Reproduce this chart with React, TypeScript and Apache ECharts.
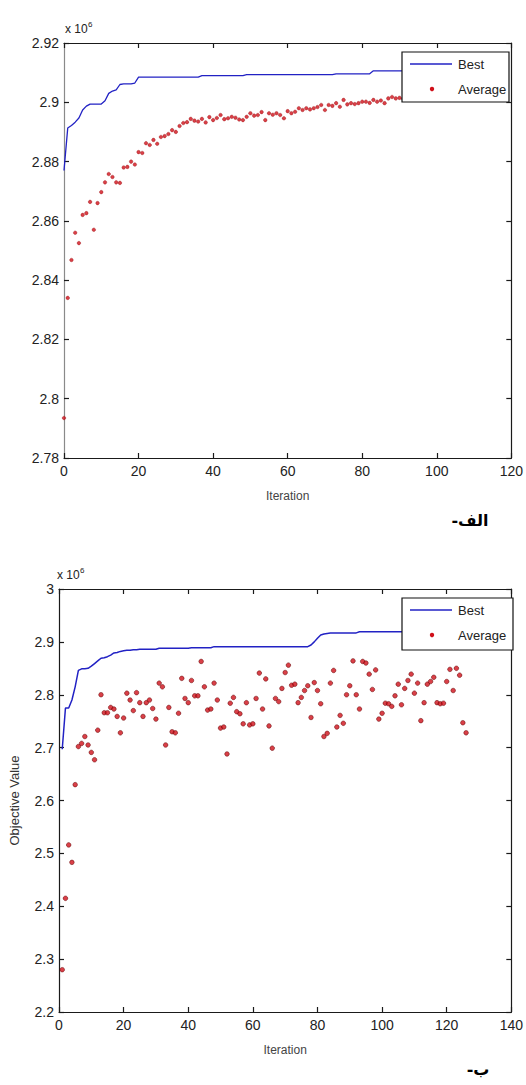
import React, { useEffect, useRef } from "react";
import * as echarts from "echarts";

// ---------- DATA (values in units of 10^6) ----------
// Chart (a): iterations start at 0
const topStartIter = 0;
const topBest = [
  2.877, 2.8913, 2.8922, 2.8933, 2.8947, 2.8974, 2.8987, 2.8994, 2.8994, 2.8994,
  2.8994, 2.9005, 2.903, 2.9038, 2.9042, 2.906, 2.9062, 2.9062, 2.9062, 2.9065,
  2.9085, 2.9085, 2.9085, 2.9085, 2.9085, 2.9085, 2.9085, 2.9085, 2.9085, 2.9085,
  2.9085, 2.9085, 2.9085, 2.9085, 2.9085, 2.9085, 2.9085, 2.909, 2.909, 2.909,
  2.909, 2.909, 2.909, 2.909, 2.909, 2.909, 2.909, 2.909, 2.909, 2.9093,
  2.9093, 2.9093, 2.9093, 2.9093, 2.9093, 2.9093, 2.9093, 2.9093, 2.9093, 2.9093,
  2.9093, 2.9093, 2.9093, 2.9093, 2.9093, 2.9093, 2.9093, 2.9093, 2.9093, 2.9093,
  2.9093, 2.9093, 2.9093, 2.9096, 2.9096, 2.9096, 2.9096, 2.9096, 2.9096, 2.9096,
  2.9096, 2.9096, 2.9096, 2.9106, 2.9106, 2.9106, 2.9106, 2.9106, 2.9106, 2.9106,
  2.9106, 2.9106, 2.9106, 2.9106, 2.9106, 2.9106, 2.9106, 2.9106, 2.9106, 2.9106,
  2.9106,
];
const topAverage = [
  2.7935, 2.834, 2.8468, 2.856, 2.8525, 2.862, 2.8626, 2.8664, 2.857, 2.866,
  2.8697, 2.873, 2.8758, 2.8748, 2.873, 2.8728, 2.878, 2.8782, 2.88, 2.879,
  2.8832, 2.8829, 2.8862, 2.8856, 2.8873, 2.886, 2.8883, 2.8886, 2.8893, 2.8906,
  2.89, 2.892, 2.893, 2.8933, 2.8944, 2.8938, 2.8935, 2.8944, 2.8932, 2.895,
  2.894, 2.8947, 2.8957, 2.8943, 2.8946, 2.8951, 2.8948, 2.8942, 2.894, 2.8951,
  2.8963, 2.8955, 2.8957, 2.8967, 2.894, 2.8963, 2.8958, 2.8963, 2.8957, 2.8946,
  2.897, 2.8963, 2.8968, 2.898, 2.8974, 2.898, 2.8976, 2.898, 2.8984, 2.8991,
  2.8974, 2.8991, 2.8988, 2.8997, 2.8985, 2.9008, 2.8993, 2.8997, 2.8994, 2.8997,
  2.9002, 2.9002, 2.8998, 2.9008, 2.9002, 2.9006, 2.8997, 2.9013, 2.9018, 2.9013,
  2.9015, 2.9012, 2.902, 2.9016, 2.9022, 2.9018, 2.9024, 2.902, 2.9025, 2.9022,
  2.9026,
];

// Chart (b): iterations start at 1
const bottomStartIter = 1;
const bottomBest = [
  2.697, 2.775, 2.775, 2.79, 2.815, 2.846, 2.849, 2.849, 2.85, 2.854,
  2.859, 2.864, 2.869, 2.87, 2.872, 2.875, 2.879, 2.88, 2.882, 2.883,
  2.884, 2.884, 2.885, 2.885, 2.886, 2.886, 2.886, 2.886, 2.886, 2.886,
  2.888, 2.888, 2.888, 2.888, 2.888, 2.888, 2.888, 2.888, 2.888, 2.888,
  2.889, 2.889, 2.889, 2.889, 2.889, 2.889, 2.889, 2.891, 2.891, 2.891,
  2.891, 2.891, 2.891, 2.891, 2.891, 2.891, 2.891, 2.891, 2.891, 2.891,
  2.891, 2.891, 2.891, 2.891, 2.891, 2.891, 2.891, 2.891, 2.891, 2.891,
  2.891, 2.891, 2.891, 2.891, 2.891, 2.891, 2.891, 2.894, 2.9, 2.907,
  2.913, 2.915, 2.916, 2.917, 2.917, 2.917, 2.917, 2.917, 2.917, 2.917,
  2.917, 2.917, 2.919, 2.919, 2.919, 2.919, 2.919, 2.919, 2.919, 2.919,
  2.919, 2.919, 2.919, 2.919, 2.919, 2.919, 2.919, 2.919, 2.919, 2.919,
  2.919, 2.919, 2.919, 2.919, 2.919, 2.919, 2.919, 2.919, 2.919, 2.919,
  2.919, 2.919, 2.919, 2.919, 2.919, 2.919, 2.919,
];
const bottomAverage = [
  2.28, 2.415, 2.516, 2.483, 2.63, 2.702, 2.708, 2.721, 2.705, 2.691,
  2.677, 2.733, 2.8, 2.766, 2.766, 2.776, 2.773, 2.759, 2.728, 2.756,
  2.803, 2.79, 2.77, 2.804, 2.785, 2.759, 2.785, 2.79, 2.774, 2.754,
  2.822, 2.815, 2.705, 2.776, 2.73, 2.728, 2.765, 2.831, 2.793, 2.785,
  2.827, 2.798, 2.798, 2.863, 2.815, 2.771, 2.773, 2.822, 2.79, 2.737,
  2.739, 2.688, 2.784, 2.795, 2.768, 2.764, 2.745, 2.785, 2.743, 2.745,
  2.793, 2.841, 2.773, 2.83, 2.741, 2.699, 2.793, 2.787, 2.812, 2.842,
  2.856, 2.818, 2.82, 2.785, 2.795, 2.808, 2.817, 2.757, 2.823, 2.808,
  2.783, 2.721, 2.727, 2.822, 2.846, 2.739, 2.761, 2.746, 2.8, 2.817,
  2.864, 2.8, 2.773, 2.863, 2.86, 2.839, 2.81, 2.847, 2.754, 2.765,
  2.784, 2.783, 2.778, 2.798, 2.82, 2.781, 2.812, 2.827, 2.839, 2.803,
  2.822, 2.751, 2.785, 2.82, 2.825, 2.833, 2.785, 2.783, 2.784, 2.825,
  2.848, 2.808, 2.85, 2.837, 2.747, 2.728,
];

const seriesNames = ["Best", "Average"];
const xAxisName = "Iteration";
const yAxisNameBottom = "Objective Value";
const exponentBase = "x 10";
const exponentPower = "6";
const panelLabels = ["الف-\u200F", "ب-\u200F"];

const topAxis = { xMin: 0, xMax: 120, xStep: 20, yMin: 2.78, yMax: 2.92, yStep: 0.02 };
const bottomAxis = { xMin: 0, xMax: 140, xStep: 20, yMin: 2.2, yMax: 3, yStep: 0.1 };

// ---------- STYLES ----------
const BLUE = "#2222c4";
const RED = "#d0101a";
const AXIS = "#1a1a1a";
const FONT = "'Liberation Sans', Arial, sans-serif";

const toPairs = (arr: number[], start: number) => arr.map((v, i) => [start + i, v]);

export default function App() {
  const ref = useRef<HTMLDivElement>(null);

  useEffect(() => {
    if (!ref.current) return;
    const chart = echarts.init(ref.current, undefined, { renderer: "svg" });

    const label = (decimals: number) => ({
      color: "#222",
      fontSize: 14,
      fontFamily: FONT,
      formatter: (v: number) => String(Math.round(v * Math.pow(10, decimals)) / Math.pow(10, decimals)),
    });

    const mkX = (grid: number, a: any, pos: "bottom" | "top", main: boolean, lineColor = AXIS) => ({
      gridIndex: grid,
      type: "value",
      min: a.xMin,
      max: a.xMax,
      interval: a.xStep,
      position: pos,
      axisLine: { show: true, onZero: false, lineStyle: { color: lineColor, width: 1.2 } },
      axisTick: { show: true, inside: true, length: 5, lineStyle: { color: AXIS, width: 1.2 } },
      axisLabel: main ? { ...label(0), margin: 6 } : { show: false },
      splitLine: { show: false },
      name: main ? xAxisName : "",
      nameLocation: "middle",
      nameGap: 32,
      nameTextStyle: { color: "#444", fontSize: 12, fontFamily: FONT },
    });

    const mkY = (grid: number, a: any, pos: "left" | "right", main: boolean, dec: number, name: string, lineColor = AXIS) => ({
      gridIndex: grid,
      type: "value",
      min: a.yMin,
      max: a.yMax,
      interval: a.yStep,
      position: pos,
      axisLine: { show: true, onZero: false, lineStyle: { color: lineColor, width: 1.2 } },
      axisTick: { show: true, inside: true, length: 5, lineStyle: { color: AXIS, width: 1.2 } },
      axisLabel: main ? { ...label(dec), margin: 5 } : { show: false },
      splitLine: { show: false },
      name,
      nameLocation: "middle",
      nameGap: 38,
      nameTextStyle: { color: "#333", fontSize: 13, fontFamily: FONT },
    });

    const legendBox = (x: number, y: number, w: number, h: number) => {
      const row1 = y + 12;
      const row2 = y + 37;
      return [
        { type: "rect", z: 100, shape: { x, y, width: w, height: h }, style: { fill: "#fff", stroke: "#111", lineWidth: 1.2 } },
        { type: "line", z: 101, shape: { x1: x + 8, y1: row1, x2: x + 50, y2: row1 }, style: { stroke: BLUE, lineWidth: 1.5 } },
        { type: "text", z: 101, x: x + 56, y: row1, style: { text: seriesNames[0], fill: "#222", font: `13px ${FONT}`, textVerticalAlign: "middle", verticalAlign: "middle" } },
        { type: "circle", z: 101, shape: { cx: x + 30, cy: row2, r: 2.2 }, style: { fill: RED } },
        { type: "text", z: 101, x: x + 56, y: row2, style: { text: seriesNames[1], fill: "#222", font: `13px ${FONT}`, textVerticalAlign: "middle", verticalAlign: "middle" } },
      ];
    };

    const exponent = (x: number, y: number) => [
      { type: "text", x, y, style: { text: exponentBase, fill: "#222", font: `12px ${FONT}`, verticalAlign: "middle" } },
      { type: "text", x: x + 23, y: y - 5, style: { text: exponentPower, fill: "#222", font: `8px ${FONT}`, verticalAlign: "middle" } },
    ];

    chart.setOption({
      animation: false,
      backgroundColor: "#fff",
      grid: [
        { left: 64, top: 43, width: 452, height: 415 },
        { left: 58.5, top: 589, width: 459.5, height: 423 },
      ],
      xAxis: [
        mkX(0, topAxis, "bottom", true),
        mkX(0, topAxis, "top", false),
        mkX(1, bottomAxis, "bottom", true),
        mkX(1, bottomAxis, "top", false),
      ],
      yAxis: [
        mkY(0, topAxis, "left", true, 2, "", "#8a8a8a"),
        mkY(0, topAxis, "right", false, 2, ""),
        mkY(1, bottomAxis, "left", true, 1, yAxisNameBottom),
        mkY(1, bottomAxis, "right", false, 1, ""),
      ],
      series: [
        {
          name: seriesNames[0], type: "line", xAxisIndex: 0, yAxisIndex: 0,
          data: toPairs(topBest, topStartIter), showSymbol: false, symbol: "none",
          lineStyle: { color: BLUE, width: 1.3 }, z: 3,
        },
        {
          name: seriesNames[1], type: "scatter", xAxisIndex: 0, yAxisIndex: 0,
          data: toPairs(topAverage, topStartIter), symbol: "circle", symbolSize: 3.6,
          itemStyle: { color: RED, borderColor: "#8a0000", borderWidth: 0.4 }, z: 2,
        },
        {
          name: seriesNames[0], type: "line", xAxisIndex: 2, yAxisIndex: 2,
          data: toPairs(bottomBest, bottomStartIter), showSymbol: false, symbol: "none",
          lineStyle: { color: BLUE, width: 1.5 }, z: 3,
        },
        {
          name: seriesNames[1], type: "scatter", xAxisIndex: 2, yAxisIndex: 2,
          data: toPairs(bottomAverage, bottomStartIter), symbol: "circle", symbolSize: 4.6,
          itemStyle: { color: RED, borderColor: "#5a0000", borderWidth: 0.6 }, z: 2,
        },
      ],
      graphic: [
        ...exponent(65, 29),
        ...exponent(57, 575),
        ...legendBox(402, 52, 107, 50),
        ...legendBox(402, 598, 111, 52),
        {
          type: "text", x: 470, y: 520,
          style: { text: panelLabels[0], fill: "#000", font: `bold 16px 'DejaVu Sans', sans-serif`, align: "center", verticalAlign: "middle" },
        },
        {
          type: "text", x: 478, y: 1069,
          style: { text: panelLabels[1], fill: "#000", font: `bold 16px 'DejaVu Sans', sans-serif`, align: "center", verticalAlign: "middle" },
        },
      ],
    });

    return () => chart.dispose();
  }, []);

  return (
    <div style={{ position: "absolute", left: 0, top: 0, width: 526, height: 1085, background: "#fff" }}>
      <div ref={ref} style={{ width: 526, height: 1085 }} />
    </div>
  );
}
